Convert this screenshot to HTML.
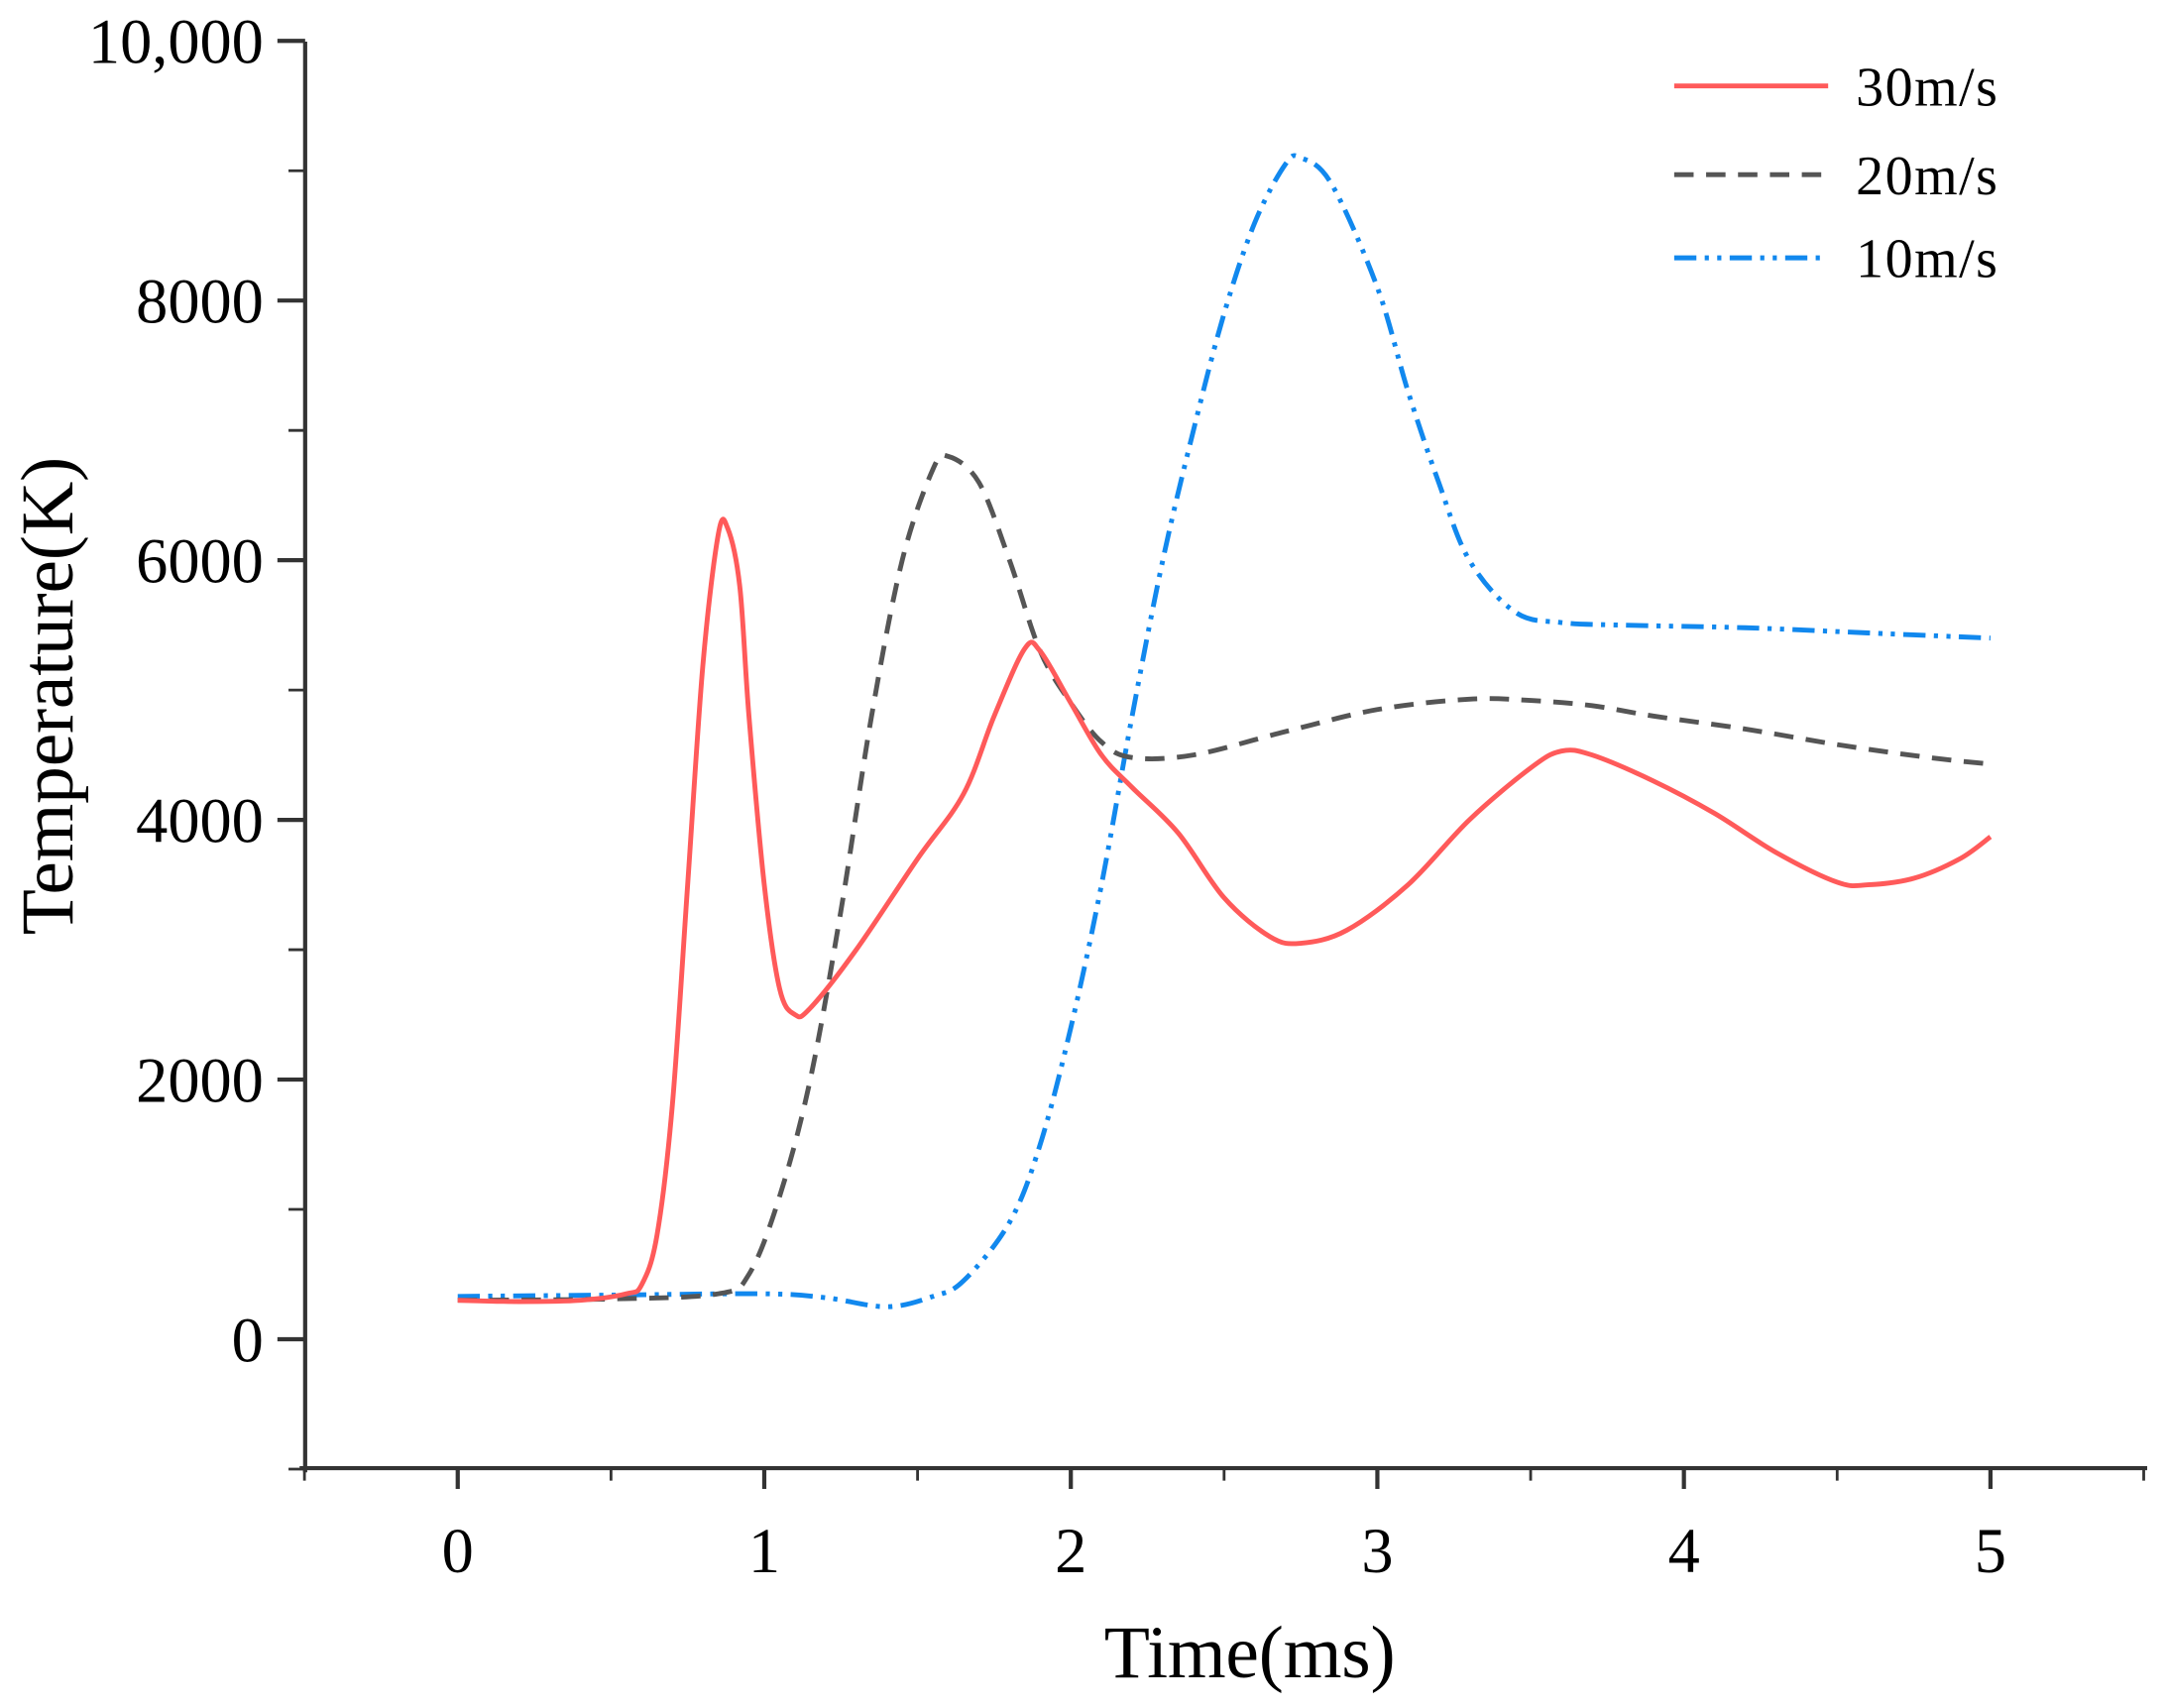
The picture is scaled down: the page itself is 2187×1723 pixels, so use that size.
<!DOCTYPE html>
<html><head><meta charset="utf-8"><style>
html,body{margin:0;padding:0;background:#fff;}
svg{display:block;}
text{font-family:"Liberation Serif",serif;fill:#000;}
</style></head><body>
<svg id="chart" width="2187" height="1723" viewBox="0 0 1563 1232" preserveAspectRatio="none" xmlns="http://www.w3.org/2000/svg">
<g id="axes"></g>
<g id="series"></g>
<g id="legend">
  <line x1="1207" y1="62" x2="1318" y2="62" stroke="#ff5a5a" stroke-width="3.5"/>
  <text x="1338" y="76" font-size="40" textLength="102">30m/s</text>
  <line x1="1207" y1="126" x2="1318" y2="126" stroke="#555" stroke-width="3.5" stroke-dasharray="14,9"/>
  <text x="1338" y="140" font-size="40" textLength="102">20m/s</text>
  <line x1="1207" y1="186" x2="1318" y2="186" stroke="#1188ee" stroke-width="3.5" stroke-dasharray="16,6,3,6,3,6"/>
  <text x="1338" y="200" font-size="40" textLength="102">10m/s</text>
</g>
<text x="901" y="1210" font-size="54" text-anchor="middle" textLength="210">Time(ms)</text>
<text transform="translate(52,502) rotate(-90)" font-size="54" text-anchor="middle" textLength="345">Temperature(K)</text>
</svg>
<script>
const xTicks=[0,1,2,3,4,5];
const yTicks=[0,2000,4000,6000,8000,10000];
const yTickLabels=["0","2000","4000","6000","8000","10,000"];
const t30=[0,0.2,0.4,0.55,0.6,0.65,0.7,0.75,0.8,0.85,0.88,0.92,0.95,1.0,1.05,1.1,1.15,1.3,1.5,1.65,1.75,1.85,1.9,2.0,2.1,2.2,2.35,2.5,2.65,2.75,2.9,3.1,3.3,3.5,3.6,3.7,3.9,4.1,4.3,4.5,4.6,4.75,4.9,5.0];
const v30=[300,290,300,350,420,800,1800,3500,5200,6200,6250,5800,4800,3500,2700,2500,2550,3000,3700,4200,4800,5320,5300,4900,4500,4250,3900,3400,3100,3050,3150,3500,4000,4400,4530,4500,4300,4050,3750,3520,3500,3550,3700,3870];
const t20=[0,0.5,0.85,0.95,1.05,1.15,1.25,1.35,1.45,1.55,1.6,1.7,1.8,1.9,2.0,2.1,2.2,2.4,2.7,3.0,3.3,3.5,3.7,3.9,4.2,4.5,4.8,5.0];
const v20=[300,310,350,500,1100,2000,3300,4800,6000,6700,6800,6600,6000,5300,4900,4600,4480,4500,4680,4850,4930,4920,4880,4800,4700,4580,4480,4430];
const t10=[0,0.5,1.0,1.2,1.4,1.55,1.65,1.8,1.9,2.0,2.1,2.2,2.3,2.4,2.5,2.6,2.7,2.75,2.85,3.0,3.1,3.2,3.3,3.45,3.6,3.8,4.2,4.6,5.0];
const v10=[330,340,350,320,250,330,450,900,1500,2400,3500,4800,6000,7000,7900,8600,9050,9100,8900,8100,7300,6600,6000,5600,5520,5500,5480,5440,5400];

const X0=330,XS=221,Y0=966,YS=187.3/2000;
function xs(t){return X0+t*XS;}
function ys(v){return Y0-v*YS;}
const NS='http://www.w3.org/2000/svg';
const axes=document.getElementById('axes');
function mk(tag,attrs,parent){const e=document.createElementNS(NS,tag);for(const k in attrs)e.setAttribute(k,attrs[k]);parent.appendChild(e);return e;}
let a=mk('line',{x1:220,y1:30,x2:220,y2:1062,stroke:'#333','stroke-width':3},axes);


a=mk('line',{x1:216,y1:1059,x2:1548,y2:1059,stroke:'#333','stroke-width':3},axes);


for(let v=-1000;v<=10000;v+=1000){
  const major=v%2000===0;
  const e=mk('line',{x1:major?200:208,y1:ys(v),x2:220,y2:ys(v),stroke:'#333','stroke-width':major?3:2},axes);
  
  
}
yTicks.forEach((v,i)=>{
  const e=mk('text',{x:190,y:ys(v)+16,'font-size':46,'text-anchor':'end'},axes);
  e.textContent=yTickLabels[i];
  
  
});
for(let t=-0.5;t<=5.5;t+=0.5){
  const major=Math.abs(t-Math.round(t))<1e-6&&t>=0&&t<=5;
  const e=mk('line',{x1:xs(t),y1:1059,x2:xs(t),y2:major?1074:1068,stroke:'#333','stroke-width':major?3:2},axes);
  
  
}
xTicks.forEach(t=>{
  const e=mk('text',{x:xs(t),y:1134,'font-size':46,'text-anchor':'middle'},axes);
  e.textContent=String(t);
  
  
});
function path(ts,vs){
  const p=ts.map((t,i)=>[xs(t),ys(vs[i])]);
  let d='M'+p[0][0]+','+p[0][1];
  for(let i=0;i<p.length-1;i++){
    const p0=p[Math.max(0,i-1)],p1=p[i],p2=p[i+1],p3=p[Math.min(p.length-1,i+2)];
    const c1x=p1[0]+(p2[0]-p0[0])/6,c1y=p1[1]+(p2[1]-p0[1])/6;
    const c2x=p2[0]-(p3[0]-p1[0])/6,c2y=p2[1]-(p3[1]-p1[1])/6;
    d+=' C'+c1x+','+c1y+' '+c2x+','+c2y+' '+p2[0]+','+p2[1];
  }
  return d;
}
const ser=document.getElementById('series');
let s=mk('path',{d:path(t10,v10),fill:'none',stroke:'#1188ee','stroke-width':3.5,'stroke-dasharray':'16,6,3,6,3,6'},ser);


s=mk('path',{d:path(t20,v20),fill:'none',stroke:'#555','stroke-width':3.5,'stroke-dasharray':'14,9'},ser);


s=mk('path',{d:path(t30,v30),fill:'none',stroke:'#ff5a5a','stroke-width':3.5},ser);


</script>
</body></html>
